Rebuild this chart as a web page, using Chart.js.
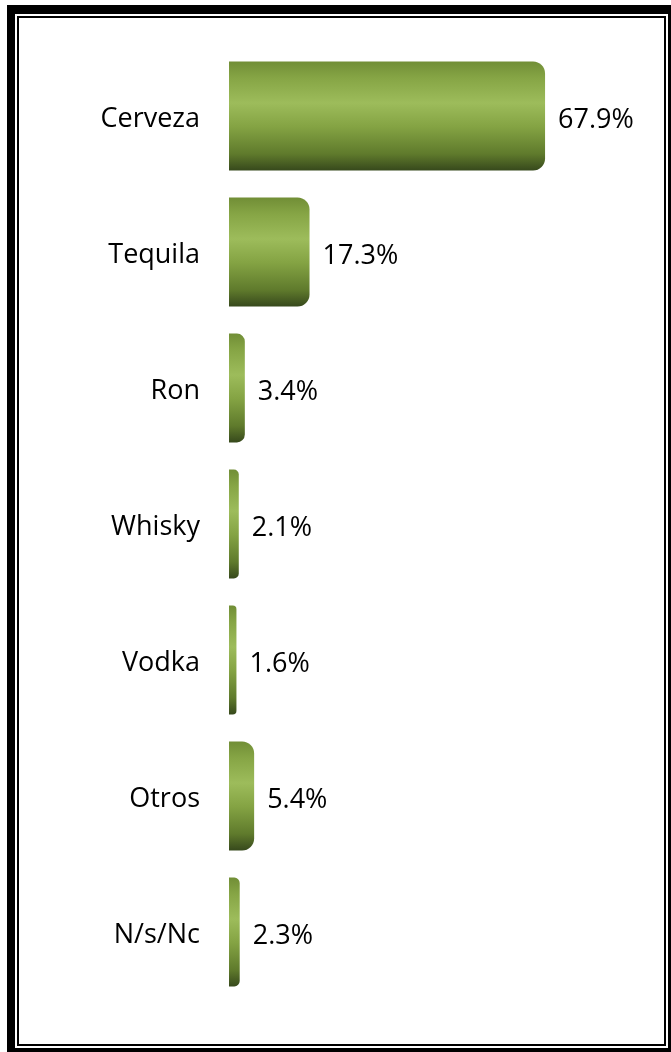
<!DOCTYPE html>
<html>
<head>
<meta charset="utf-8">
<script src="https://cdn.jsdelivr.net/npm/chart.js@4"></script>
<style>
  html, body { margin: 0; padding: 0; background: #fff; overflow: hidden; }
  #wrap { position: relative; width: 671px; height: 1052px; overflow: hidden; }
  .frame-outer {
    position: absolute; left: 7px; top: 5px; width: 669px; height: 1051px;
    box-sizing: border-box; border: 8px solid #000; border-top-width: 9px;
  }
  .frame-inner {
    position: absolute; left: 17px; top: 16px; width: 649px; height: 1030px;
    box-sizing: border-box; border: 2px solid #000;
  }
  canvas { position: absolute; left: 0; top: 0; }
</style>
</head>
<body>
<div id="wrap">
  <div class="frame-outer"></div>
  <div class="frame-inner"></div>
  <canvas id="chart" width="671" height="1052"></canvas>
</div>
<script>
// Data
const categories = ['Cerveza', 'Tequila', 'Ron', 'Whisky', 'Vodka', 'Otros', 'N/s/Nc'];
const shares = [67.9, 17.3, 3.4, 2.1, 1.6, 5.4, 2.3];

const FONT = "'Open Sans', 'DejaVu Sans', sans-serif";

// Cylinder-like vertical gradient for each bar
function barGradient(c) {
  const chart = c.chart;
  const y = chart.scales.y;
  if (!y || !chart.chartArea) return '#86a546';
  const center = y.getPixelForValue(c.dataIndex);
  const half = (y.height / categories.length) * 0.8 / 2;
  const g = chart.ctx.createLinearGradient(0, center - half, 0, center + half);
  g.addColorStop(0, '#718e36');
  g.addColorStop(0.15, '#86a545');
  g.addColorStop(0.38, '#9dbc5b');
  g.addColorStop(0.6, '#84a343');
  g.addColorStop(0.85, '#5f7a2c');
  g.addColorStop(1, '#37491c');
  return g;
}

// Percent labels to the right of the bars
const valueLabels = {
  id: 'valueLabels',
  afterDatasetsDraw(chart) {
    const ctx = chart.ctx;
    const meta = chart.getDatasetMeta(0);
    ctx.save();
    ctx.font = '27px ' + FONT;
    ctx.fillStyle = '#000';
    ctx.textAlign = 'left';
    ctx.textBaseline = 'middle';
    meta.data.forEach((bar, i) => {
      ctx.fillText(shares[i].toFixed(1) + '%', bar.x + 13, bar.y + 4);
    });
    ctx.restore();
  }
};

new Chart(document.getElementById('chart'), {
  type: 'bar',
  data: {
    labels: categories,
    datasets: [{
      data: shares,
      backgroundColor: barGradient,
      borderWidth: 0,
      borderSkipped: 'start',
      borderRadius: { topLeft: 0, bottomLeft: 0, topRight: 12, bottomRight: 12 },
      categoryPercentage: 1,
      barPercentage: 0.8
    }]
  },
  options: {
    indexAxis: 'y',
    responsive: false,
    animation: false,
    devicePixelRatio: 1,
    layout: { padding: { top: 48, bottom: 52, left: 0, right: 51 } },
    plugins: {
      legend: { display: false },
      tooltip: { enabled: false }
    },
    scales: {
      x: {
        display: false,
        min: 0,
        max: 84
      },
      y: {
        grid: { display: false, drawTicks: false },
        border: { display: false },
        ticks: {
          color: '#000',
          padding: 29,
          labelOffset: 3,
          font: { family: FONT, size: 27 }
        },
        afterFit(scale) { scale.width = 229; }
      }
    }
  },
  plugins: [valueLabels]
});
</script>
</body>
</html>
